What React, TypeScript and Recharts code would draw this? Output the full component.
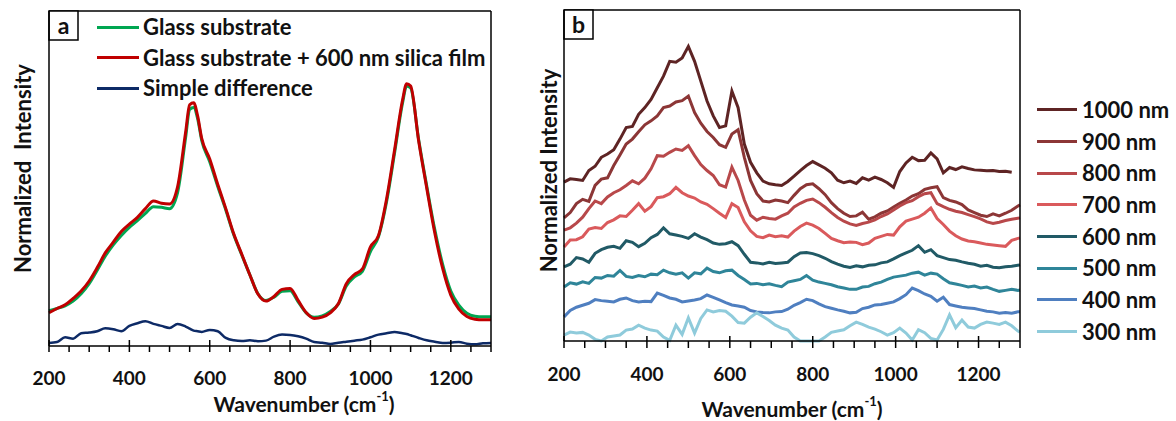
import React from 'react';
import { LineChart, Line, XAxis, YAxis, Legend } from 'recharts';

const FONT = "Lato, 'Open Sans', 'DejaVu Sans', sans-serif";

// ---------------- Panel a data ----------------
const waveA = [200,220,240,260,280,300,320,340,360,380,400,420,440,460,480,500,520,540,550,560,570,580,600,620,640,660,680,700,720,740,760,780,800,820,840,860,880,900,920,940,960,980,1000,1020,1040,1060,1080,1090,1100,1120,1140,1160,1180,1200,1220,1240,1260,1280,1300];
const glassSubstrate = [10.5,11.2,12.0,13.4,15.6,18.6,22.6,26.8,30.2,33.0,35.4,37.4,39.6,41.6,41.4,41.0,45.8,62.2,70.6,71.2,67.8,61.4,55.0,47.6,40.6,33.1,27.1,21.2,15.6,13.6,14.6,16.3,16.5,13.2,9.9,8.6,9.0,10.3,12.5,17.9,20.6,22.3,28.2,32.6,43.0,57.6,72.6,77.6,77.0,61.6,47.8,34.8,24.2,16.4,12.2,9.8,8.9,8.7,8.7];
const glassFilm = [9.9,11.2,12.3,14.2,16.4,19.4,23.4,27.8,31.0,34.2,36.4,38.4,41.0,43.3,42.6,42.4,47.5,63.8,72.0,72.6,68.6,62.0,55.8,48.2,41.0,33.4,27.3,21.2,15.5,13.4,14.8,16.9,17.2,13.6,10.0,8.2,8.6,9.9,12.6,18.6,21.3,23.0,29.6,33.0,43.8,58.5,73.5,78.3,77.6,61.2,47.2,33.8,23.0,15.2,11.0,8.8,8.0,7.8,7.8];
const simpleDiff = [0.9,1.2,2.6,2.2,3.8,4.0,4.4,5.3,5.0,4.4,6.0,6.8,7.4,6.6,6.0,5.4,6.6,5.8,5.2,4.6,4.4,4.2,4.8,4.4,2.4,1.7,1.5,1.7,1.4,1.6,2.8,3.4,3.3,2.9,2.2,1.2,1.0,0.6,1.0,1.3,1.6,1.9,2.6,3.4,3.8,4.2,3.8,3.6,3.2,2.4,1.7,1.3,0.9,1.0,1.2,0.7,0.5,0.8,0.9];

// ---------------- Panel b data ----------------
const waveB = [200,215,230,245,260,275,290,305,320,335,350,365,380,395,410,425,440,455,470,485,500,515,530,545,560,575,590,605,620,635,650,665,680,695,710,725,740,755,770,785,800,815,830,845,860,875,890,905,920,935,950,965,980,995,1010,1025,1040,1055,1070,1085,1100,1115,1130,1145,1160,1175,1190,1205,1220,1235,1250,1265,1280,1295,1300];
const nm1000 = [48.0,49.0,48.8,48.5,51.5,52.8,55.5,56.5,57.8,61.0,64.5,64.8,68.5,70.5,73.0,76.5,80.0,84.5,84.2,85.5,89.0,84.5,78.5,72.5,68.0,64.5,65.0,75.5,70.5,59.5,54.0,50.8,48.3,47.5,47.2,47.0,48.2,49.8,51.5,53.0,54.2,53.2,52.2,50.8,48.6,47.8,48.3,47.6,49.3,48.6,49.5,48.8,47.8,46.4,51.2,53.8,55.5,54.5,54.6,56.8,55.0,50.8,52.4,51.8,52.6,52.1,51.7,51.6,51.4,51.5,51.2,51.3,51.0,null,null];
const nm900 = [37.2,38.8,41.5,42.8,42.2,47.0,48.9,49.3,53.0,56.2,59.5,61.0,63.2,65.3,66.5,68.0,70.5,71.0,72.2,72.6,74.0,69.0,65.8,63.3,61.5,59.3,58.5,62.5,63.8,55.5,48.5,44.5,42.3,42.0,42.6,42.3,41.8,44.0,46.0,47.2,47.5,46.0,44.2,41.8,40.0,38.6,37.6,37.8,38.9,36.8,37.5,38.6,39.3,40.5,41.6,42.6,43.8,44.5,45.8,46.3,46.6,43.3,42.5,42.0,41.2,39.6,38.8,38.0,37.6,38.4,37.8,38.6,39.5,40.8,41.1];
const nm800 = [33.5,34.2,35.6,37.4,40.0,42.3,41.5,43.5,44.8,45.7,47.0,48.4,47.5,49.2,52.0,56.0,55.8,57.0,58.0,57.6,59.0,56.0,53.3,51.5,50.0,47.2,46.5,52.5,48.5,42.6,38.0,36.5,37.4,37.0,36.8,37.8,38.6,40.5,41.6,42.5,42.9,41.8,40.4,38.8,37.3,36.2,35.4,34.9,35.5,35.9,36.6,37.6,38.4,39.6,40.8,41.8,42.4,43.6,44.5,44.8,41.5,40.6,39.8,39.2,38.8,38.2,37.6,36.9,36.0,35.5,35.9,36.4,36.8,37.1,37.2];
const nm700 = [28.4,30.5,30.6,31.5,33.8,34.3,34.0,35.8,36.6,37.8,37.6,39.5,41.5,39.2,40.6,43.3,43.6,44.5,46.4,44.8,43.8,43.2,42.0,41.3,40.0,38.6,37.3,41.5,40.3,36.0,33.3,31.6,31.2,32.0,31.5,31.8,31.4,33.2,34.6,35.6,35.0,34.0,32.5,31.0,30.3,29.7,29.9,29.8,29.1,29.6,31.0,31.6,32.2,32.0,34.5,36.2,36.8,37.4,38.6,40.2,37.0,35.2,33.2,31.8,30.8,30.2,30.0,29.6,29.2,29.0,28.8,28.6,30.4,31.0,31.1];
const nm600 = [22.4,23.2,25.2,24.8,23.8,26.5,27.6,28.3,28.6,28.0,30.3,29.8,28.5,29.5,31.2,32.2,34.2,32.4,32.0,31.6,31.0,32.4,31.4,30.6,29.6,29.2,29.4,30.0,28.8,26.2,23.8,23.6,23.3,23.8,23.4,23.6,23.8,25.5,26.6,26.7,26.4,25.8,25.0,24.0,23.2,22.6,22.2,22.7,22.4,22.9,23.0,23.6,23.9,24.8,25.8,26.6,27.4,28.8,26.8,27.6,25.8,25.2,24.6,24.4,23.9,23.5,23.2,22.6,22.9,22.3,22.1,22.4,22.6,22.9,23.0];
const nm500 = [16.3,17.6,17.2,17.9,17.4,19.2,19.0,19.8,19.6,21.3,19.5,19.2,19.8,19.4,20.2,20.0,21.4,20.6,20.2,20.6,19.0,20.6,20.3,22.0,21.0,20.6,21.2,21.4,19.8,18.6,17.2,17.4,17.0,17.3,16.8,16.4,17.8,18.2,18.6,19.8,18.4,17.8,17.4,17.0,16.4,16.0,15.6,15.6,16.3,16.5,17.3,17.8,18.6,19.3,19.6,19.9,20.5,20.8,19.9,20.5,20.2,18.8,17.6,17.2,16.8,16.3,16.6,16.0,16.3,15.6,15.0,15.3,15.6,15.3,15.4];
const nm400 = [7.3,9.2,10.2,10.8,11.4,12.5,12.2,12.0,11.8,12.6,13.0,12.2,11.8,12.0,11.9,14.5,13.8,13.0,12.6,11.8,12.1,12.4,12.8,13.9,13.2,12.4,11.6,10.9,10.6,10.2,9.2,8.8,8.6,8.5,8.8,8.9,9.6,10.8,11.6,12.6,12.2,11.2,10.4,9.9,9.4,9.0,8.5,8.7,9.8,10.2,10.9,11.0,11.4,11.8,12.8,14.0,16.0,15.2,14.2,13.5,12.0,13.2,11.0,10.6,10.2,10.0,9.8,9.4,9.0,8.8,8.4,8.6,8.4,8.8,8.8];
const nm300 = [1.8,2.7,2.4,2.6,1.8,0.5,0.0,1.2,1.5,1.8,3.3,3.6,4.8,3.9,3.3,3.0,1.2,0.2,4.8,2.0,7.0,2.4,6.8,9.4,8.8,9.2,9.0,7.5,5.6,5.4,7.2,8.5,7.4,6.2,4.8,3.9,3.3,1.2,0.0,0.0,0.0,0.0,1.2,2.6,3.0,3.4,4.6,5.7,5.0,4.2,3.6,2.8,1.8,2.5,3.9,2.4,0.3,3.4,2.5,0.8,0.3,3.5,7.9,4.0,6.3,4.2,3.9,5.0,5.7,5.4,5.0,5.7,4.6,3.0,2.7];

const axisTicks = [200,250,300,350,400,450,500,550,600,650,700,750,800,850,900,950,1000,1050,1100,1150,1200,1250,1300];

const seriesA = [
  { key: 'glass', name: 'Glass substrate', color: '#00a651', width: 3, values: glassSubstrate },
  { key: 'film', name: 'Glass substrate + 600 nm silica film', color: '#c00000', width: 3, values: glassFilm },
  { key: 'diff', name: 'Simple difference', color: '#0d2a66', width: 2.5, values: simpleDiff },
];

const seriesB = [
  { key: 'b1000', name: '1000 nm', color: '#5e2424', values: nm1000 },
  { key: 'b900', name: '900 nm', color: '#8c3636', values: nm900 },
  { key: 'b800', name: '800 nm', color: '#b8484a', values: nm800 },
  { key: 'b700', name: '700 nm', color: '#da5a5c', values: nm700 },
  { key: 'b600', name: '600 nm', color: '#215a66', values: nm600 },
  { key: 'b500', name: '500 nm', color: '#2f8599', values: nm500 },
  { key: 'b400', name: '400 nm', color: '#4f7fc0', values: nm400 },
  { key: 'b300', name: '300 nm', color: '#8fcbdb', values: nm300 },
];

const dataA = waveA.map((w, i) => {
  const row: any = { w };
  seriesA.forEach((s) => { row[s.key] = s.values[i]; });
  return row;
});
const dataB = waveB.map((w, i) => {
  const row: any = { w };
  seriesB.forEach((s) => { row[s.key] = s.values[i]; });
  return row;
});

const AXIS_LINE = { stroke: '#000', strokeWidth: 1.5 };

function makeTick(labelDy: number, up: number, down: number) {
  return (props: any) => {
    const { x, y, payload } = props;
    const v = payload.value as number;
    const major = v % 200 === 0;
    return (
      <g>
        <line x1={x} x2={x} y1={major ? y - up : y} y2={y + down} stroke="#000" strokeWidth={1.5} />
        {major ? (
          <text x={x} y={y + labelDy} textAnchor="middle" dominantBaseline="central"
            fontFamily={FONT} fontWeight={700} fontSize={19} fill="#111">{v}</text>
        ) : null}
      </g>
    );
  };
}

function xTitle(dx: number, dy: number) {
  return (props: any) => {
    const vb = props.viewBox || {};
    const x = vb.x + vb.width / 2 + dx;
    const y = vb.y + dy;
    return (
      <text x={x} y={y} textAnchor="middle" dominantBaseline="central"
        fontFamily={FONT} fontWeight={700} fontSize={21} fill="#111">
        Wavenumber (cm<tspan dy={-7} fontSize={13}>-1</tspan><tspan dy={7}>)</tspan>
      </text>
    );
  };
}

function yTitle(text: string, dx: number, dy: number) {
  return (props: any) => {
    const vb = props.viewBox || {};
    const x = vb.x + (vb.width || 0) + dx;
    const y = vb.y + vb.height / 2 + dy;
    return (
      <text x={x} y={y} transform={`rotate(-90 ${x} ${y})`} textAnchor="middle" dominantBaseline="central"
        fontFamily={FONT} fontWeight={700} fontSize={22} fill="#111" style={{ whiteSpace: 'pre' }}>
        {text}
      </text>
    );
  };
}

function panelBox(letter: string) {
  return (props: any) => {
    const vb = props.viewBox || {};
    const x0 = vb.x;
    const y0 = vb.y + (vb.height || 0);
    return (
      <g>
        <rect x={x0} y={y0} width={29} height={29} fill="#fff" stroke="#000" strokeWidth={1.5} />
        <text x={x0 + 14.5} y={y0 + 13.5} textAnchor="middle" dominantBaseline="central"
          fontFamily={FONT} fontWeight={700} fontSize={23} fill="#111">{letter}</text>
      </g>
    );
  };
}

function makeLegend(order: string[], lineLen: number, rowH: number, gap: number, fontSize: number) {
  return (props: any) => {
    const items = [...(props.payload || [])].sort(
      (a: any, b: any) => order.indexOf(a.value) - order.indexOf(b.value)
    );
    return (
      <div>
        {items.map((p: any) => (
          <div key={p.value} style={{ display: 'flex', alignItems: 'center', height: rowH }}>
            <div style={{ width: lineLen, height: 3, background: p.color }} />
            <span style={{ marginLeft: gap, fontFamily: FONT, fontWeight: 700, fontSize, color: '#111', whiteSpace: 'nowrap', lineHeight: 1 }}>
              {p.value}
            </span>
          </div>
        ))}
      </div>
    );
  };
}

const tickA = makeTick(31, 6, 6);
const tickB = makeTick(32, 5, 7);

export default function App() {
  return (
    <div style={{ position: 'absolute', left: 0, top: 0, width: 1176, height: 421, background: '#fff', overflow: 'hidden' }}>
      <div style={{ position: 'absolute', left: 0, top: 0 }}>
        <LineChart width={540} height={421} data={dataA} margin={{ top: 10, left: 48, right: 48, bottom: 0 }}>
          <XAxis dataKey="w" type="number" domain={[200, 1300]} ticks={axisTicks} interval={0}
            tick={tickA} tickLine={false} tickSize={0} tickMargin={0} axisLine={AXIS_LINE} height={75}
            label={{ content: xTitle(34, 57) }} />
          <XAxis xAxisId="t" orientation="top" dataKey="w" type="number" domain={[200, 1300]}
            tick={false} tickLine={false} height={1} axisLine={AXIS_LINE} label={{ content: panelBox('a') }} />
          <YAxis type="number" domain={[0, 100]} tick={false} tickLine={false} width={1} axisLine={AXIS_LINE}
            label={{ content: yTitle('Normalized  Intensity', -27, -10) }} />
          <YAxis yAxisId="r" orientation="right" type="number" domain={[0, 100]} tick={false} tickLine={false}
            width={1} axisLine={AXIS_LINE} />
          {seriesA.map((s) => (
            <Line key={s.key} dataKey={s.key} name={s.name} stroke={s.color} strokeWidth={s.width}
              type="monotone" dot={false} activeDot={false} isAnimationActive={false} />
          ))}
          <Legend layout="vertical" align="center" verticalAlign="middle"
            wrapperStyle={{ left: 97, top: 12, width: 430 }}
            content={makeLegend(seriesA.map((s) => s.name), 42, 30.5, 4, 22)} />
        </LineChart>
      </div>
      <div style={{ position: 'absolute', left: 520, top: 0 }}>
        <LineChart width={656} height={421} data={dataB} margin={{ top: 9, left: 43, right: 155, bottom: 0 }}>
          <XAxis dataKey="w" type="number" domain={[200, 1300]} ticks={axisTicks} interval={0}
            tick={tickB} tickLine={false} tickSize={0} tickMargin={0} axisLine={AXIS_LINE} height={80}
            label={{ content: xTitle(0, 67) }} />
          <XAxis xAxisId="t" orientation="top" dataKey="w" type="number" domain={[200, 1300]}
            tick={false} tickLine={false} height={1} axisLine={AXIS_LINE} label={{ content: panelBox('b') }} />
          <YAxis type="number" domain={[0, 100]} tick={false} tickLine={false} width={1} axisLine={AXIS_LINE}
            label={{ content: yTitle('Normalized Intensity', -16, -5) }} />
          <YAxis yAxisId="r" orientation="right" type="number" domain={[0, 100]} tick={false} tickLine={false}
            width={1} axisLine={AXIS_LINE} />
          {seriesB.map((s) => (
            <Line key={s.key} dataKey={s.key} name={s.name} stroke={s.color} strokeWidth={3}
              type="linear" dot={false} activeDot={false} isAnimationActive={false} />
          ))}
          <Legend layout="vertical" align="center" verticalAlign="middle"
            wrapperStyle={{ left: 517, top: 94, width: 140 }}
            content={makeLegend(seriesB.map((s) => s.name), 40, 31.7, 5, 22)} />
        </LineChart>
      </div>
    </div>
  );
}
